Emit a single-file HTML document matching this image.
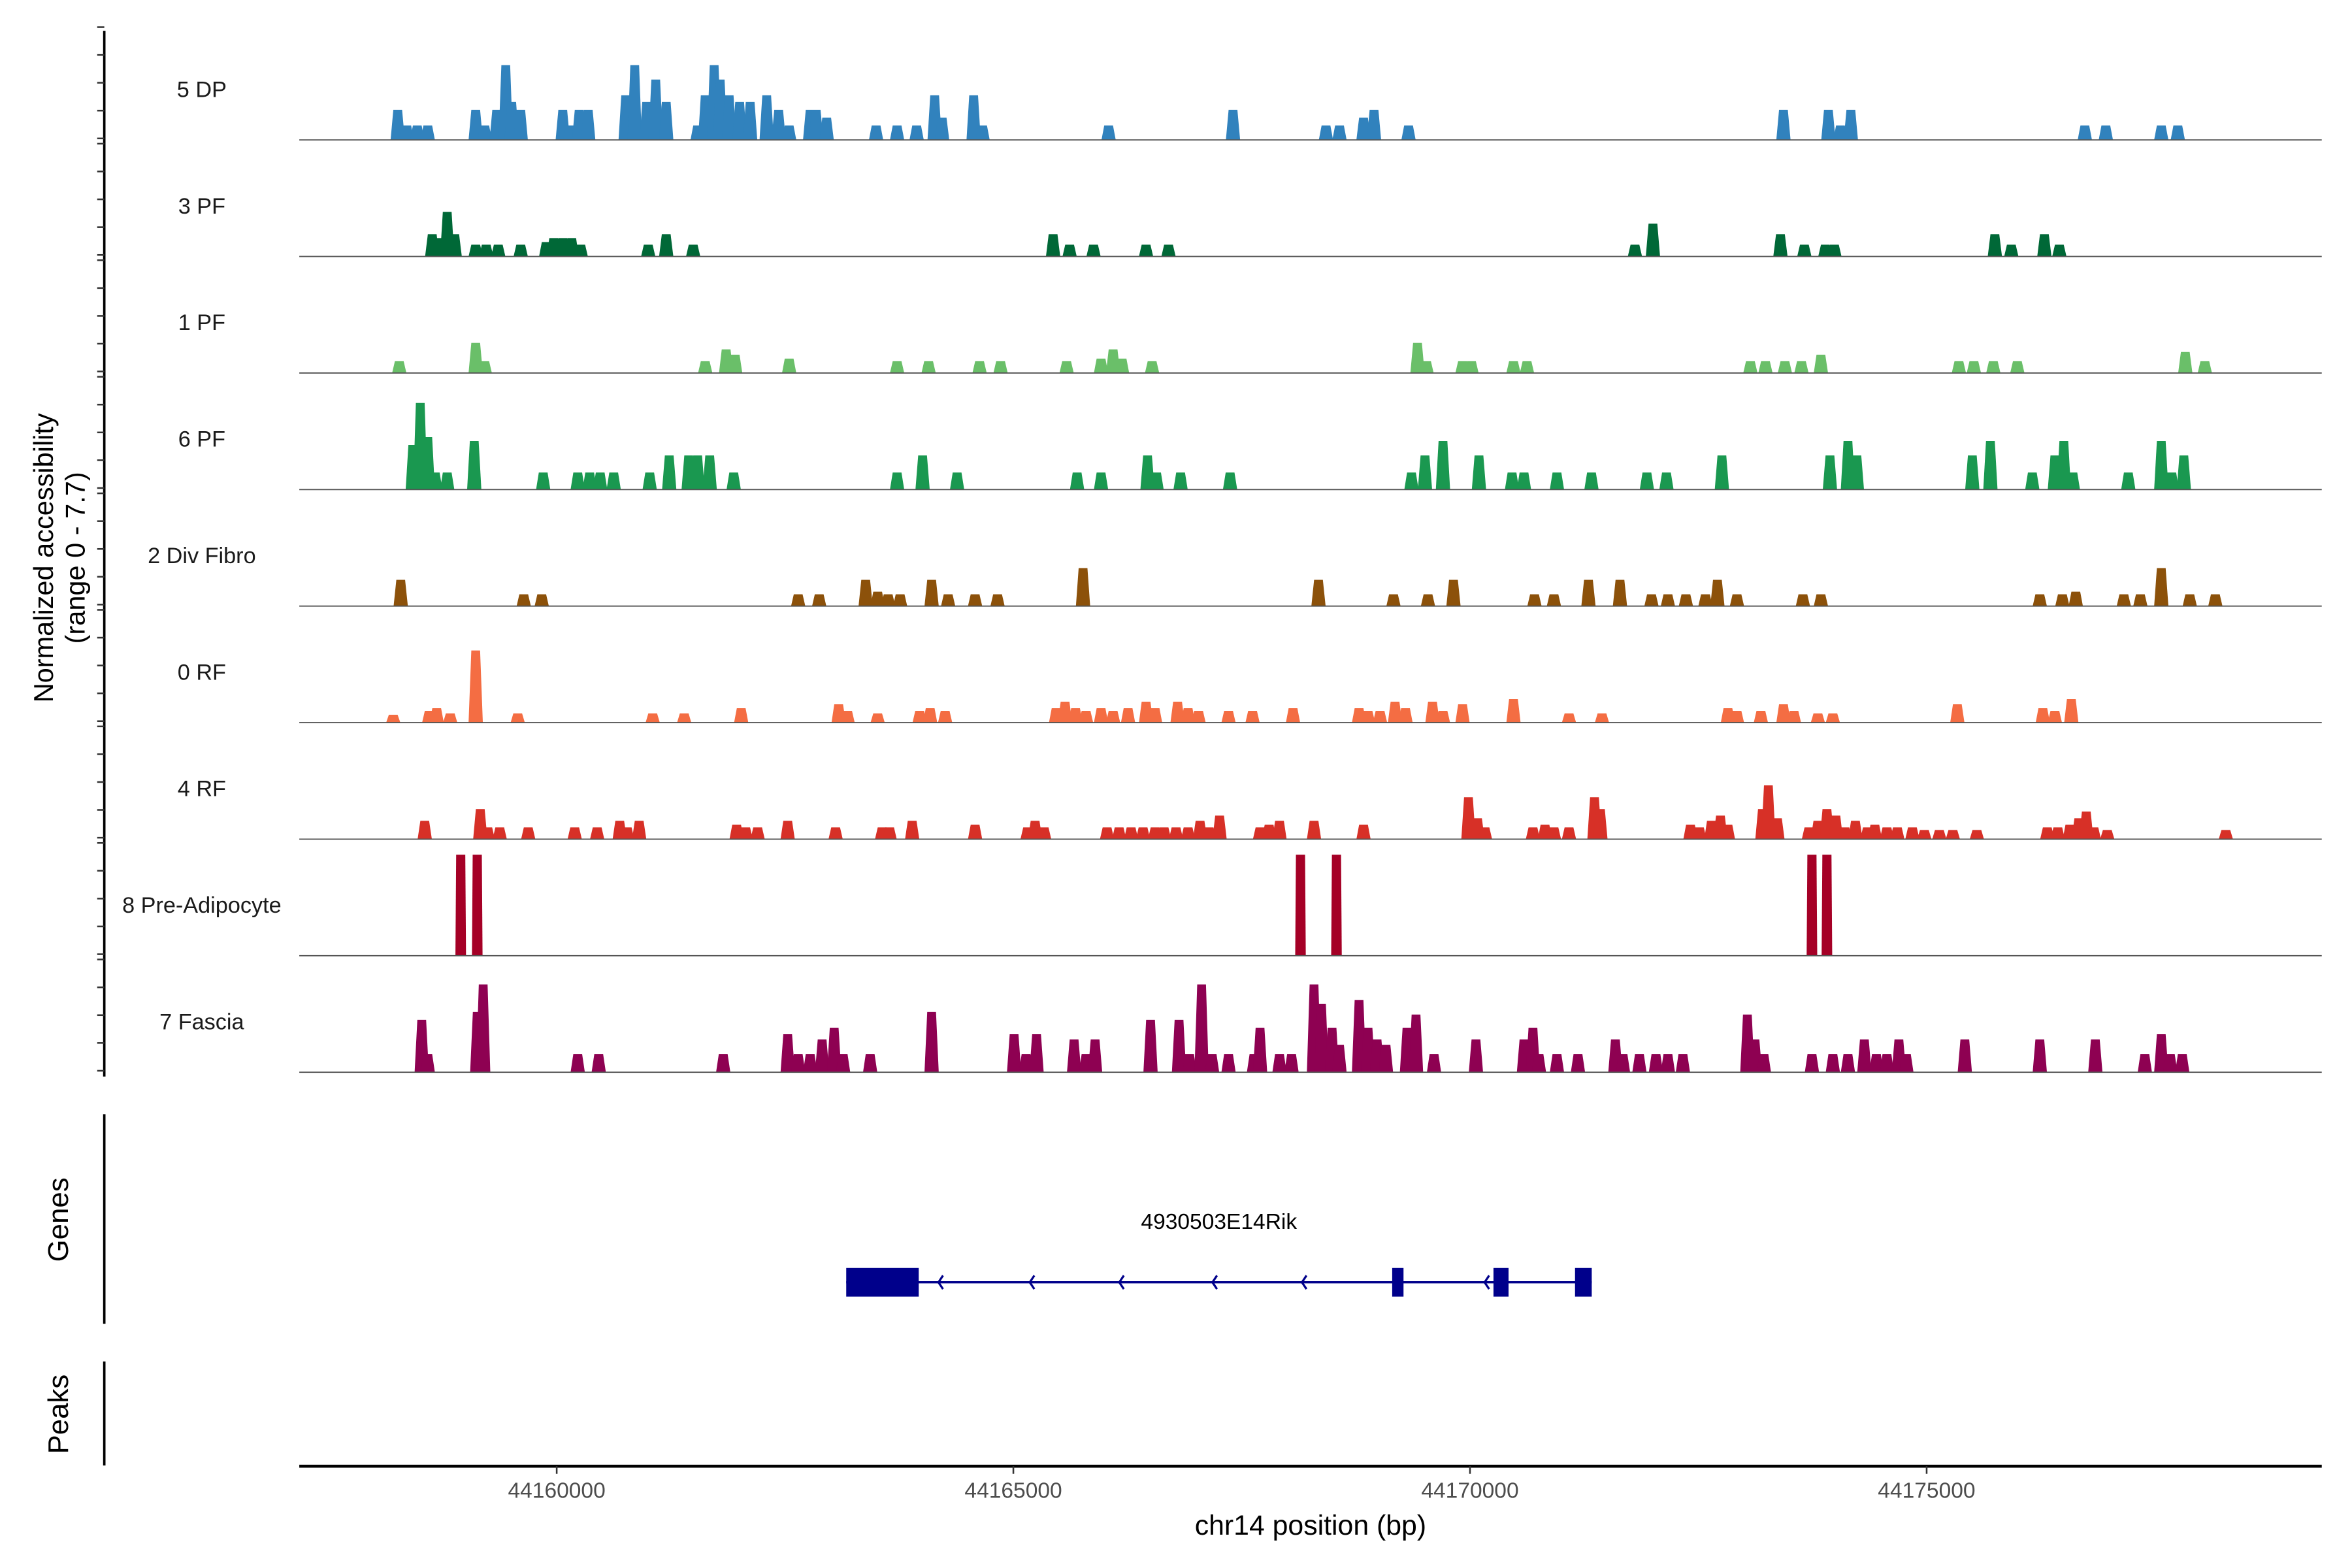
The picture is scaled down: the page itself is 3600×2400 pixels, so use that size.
<!DOCTYPE html>
<html><head><meta charset="utf-8"><style>
html,body{margin:0;padding:0;background:#fff;}
svg{display:block;font-family:"Liberation Sans",Arial,sans-serif;}
</style></head><body>
<svg id="chart" xmlns="http://www.w3.org/2000/svg" width="3600" height="2400" viewBox="0 0 1556 1040" preserveAspectRatio="none">
<rect x="0" y="0" width="1556" height="1040" fill="#fff"/>
<g id="tracks"></g>
<g id="yaxis"></g>
<text transform="translate(35,370) rotate(-90)" text-anchor="middle" font-size="18" fill="#000">Normalized accessibility</text>
<text transform="translate(56,370) rotate(-90)" text-anchor="middle" font-size="18" fill="#000">(range 0 - 7.7)</text>
<line x1="69" y1="739" x2="69" y2="878" stroke="#000" stroke-width="1.6"/>
<text transform="translate(45,809) rotate(-90)" text-anchor="middle" font-size="19" fill="#000">Genes</text>
<line x1="69" y1="903" x2="69" y2="972" stroke="#000" stroke-width="1.6"/>
<text transform="translate(45,938) rotate(-90)" text-anchor="middle" font-size="19" fill="#000">Peaks</text>
<g id="gene"></g>
<g id="xaxis"></g>
<text x="867" y="1018" text-anchor="middle" font-size="18.5" fill="#000">chr14 position (bp)</text>
</svg>
<script>
const trackNames = ["5 DP","3 PF","1 PF","6 PF","2 Div Fibro","0 RF","4 RF","8 Pre-Adipocyte","7 Fascia"];
const trackColors = ["#3182bd","#006837","#6abf69","#1a9850","#8c510a","#f46d43","#d73027","#a50026","#8e0152"];
const dpPos = [44158259,44158358,44158473,44158588,44159113,44159212,44159343,44159442,44159507,44159606,44160066,44160148,44160246,44160345,44160755,44160854,44160985,44161084,44161199,44161543,44161626,44161724,44161790,44161888,44162003,44162118,44162299,44162430,44162545,44162775,44162841,44162956,44163497,44163727,44163941,44164138,44164220,44164565,44164663,44166043,44167405,44168423,44168571,44168834,44168949,44169327,44173432,44173924,44174056,44174170,44176732,44176962,44177569,44177750];
const dpVal = [2.3,1.1,1.1,1.1,2.3,1.1,2.3,5.7,2.9,2.3,2.3,1.1,2.3,2.3,3.4,5.7,2.9,4.6,2.9,1.1,3.4,5.7,4.6,3.4,2.9,2.9,3.4,2.3,1.1,2.3,2.3,1.7,1.1,1.1,1.1,3.4,1.7,3.4,1.1,1.1,2.3,1.1,1.1,1.7,2.3,1.1,2.3,2.3,1.1,2.3,1.1,1.1,1.1,1.1];
const pf3Pos = [44158637,44158719,44158801,44158883,44159113,44159228,44159360,44159606,44159885,44159967,44160066,44160164,44160263,44161002,44161199,44161494,44165435,44165616,44165878,44166453,44166699,44171806,44172003,44173399,44173661,44173891,44173990,44175747,44175927,44176289,44176453];
const pf3Val = [1.7,1.4,3.4,1.7,0.9,0.9,0.9,0.9,1.1,1.4,1.4,1.4,0.9,0.9,1.7,0.9,1.7,0.9,0.9,0.9,0.9,0.9,2.5,1.7,0.9,0.9,0.9,1.7,0.9,1.7,0.9];
const pf1Pos = [44158276,44159113,44159212,44161626,44161855,44161954,44162545,44163727,44164072,44164630,44164860,44165583,44165960,44166092,44166190,44166519,44169425,44169524,44169918,44170016,44170476,44170624,44173070,44173235,44173448,44173629,44173842,44175353,44175517,44175730,44175993,44177832,44178046];
const pf1Val = [0.9,2.3,0.9,0.9,1.8,1.4,1.1,0.9,0.9,0.9,0.9,0.9,1.1,1.8,1.1,0.9,2.3,0.9,0.9,0.9,0.9,0.9,0.9,0.9,0.9,0.9,1.4,0.9,0.9,0.9,0.9,1.6,0.9];
const pf6Pos = [44158424,44158506,44158588,44158670,44158801,44159097,44159852,44160230,44160361,44160476,44160624,44161018,44161232,44161445,44161543,44161675,44161938,44163727,44164006,44164384,44165698,44165960,44166469,44166568,44166831,44167373,44169359,44169507,44169704,44170098,44170460,44170591,44170952,44171330,44171937,44172151,44172758,44173941,44174138,44174236,44175500,44175698,44176157,44176404,44176502,44176601,44177208,44177569,44177684,44177816];
const pf6Val = [3.4,6.6,4.0,1.3,1.3,3.7,1.3,1.3,1.3,1.3,1.3,1.3,2.6,2.6,2.6,2.6,1.3,1.3,2.6,1.3,1.3,1.3,2.6,1.3,1.3,1.3,1.3,2.6,3.7,2.6,1.3,1.3,1.3,1.3,1.3,1.3,2.6,2.6,3.7,2.6,2.6,3.7,1.3,2.6,3.7,1.3,1.3,3.7,1.3,2.6];
const divPos = [44158292,44159639,44159836,44162644,44162874,44163383,44163514,44163629,44163760,44164105,44164286,44164581,44164827,44165763,44168341,44169162,44169540,44169819,44170706,44170919,44171297,44171642,44171987,44172167,44172364,44172578,44172709,44172923,44173645,44173842,44176239,44176486,44176633,44177159,44177340,44177569,44177881,44178161];
const divVal = [2.0,0.9,0.9,0.9,0.9,2.0,1.1,0.9,0.9,2.0,0.9,0.9,0.9,2.9,2.0,0.9,0.9,2.0,0.9,0.9,2.0,2.0,0.9,0.9,0.9,0.9,2.0,0.9,0.9,0.9,0.9,0.9,1.1,0.9,0.9,2.9,0.9,0.9];
const rf0Pos = [44158210,44158604,44158686,44158834,44159113,44159573,44161051,44161396,44162020,44163087,44163185,44163514,44163974,44164089,44164253,44165468,44165566,44165681,44165796,44165960,44166092,44166256,44166453,44166552,44166798,44166913,44167028,44167356,44167619,44168062,44168785,44168883,44169015,44169179,44169294,44169589,44169704,44169918,44170476,44171084,44171445,44172824,44172923,44173185,44173432,44173547,44173809,44173973,44175336,44176272,44176404,44176584];
const rf0Val = [0.6,0.9,1.1,0.7,5.5,0.7,0.7,0.7,1.1,1.4,0.9,0.7,0.9,1.1,0.9,1.1,1.6,1.1,0.9,1.1,0.9,1.1,1.6,1.1,1.6,1.1,0.9,0.9,0.9,1.1,1.1,0.9,0.9,1.6,1.1,1.6,0.9,1.4,1.8,0.7,0.7,1.1,0.9,0.9,1.4,0.9,0.7,0.7,1.4,1.1,0.9,1.8];
const rf4Pos = [44158555,44159163,44159245,44159376,44159688,44160197,44160443,44160690,44160772,44160903,44161970,44162069,44162200,44162529,44163054,44163563,44163645,44163892,44164581,44165156,44165238,44165337,44166026,44166158,44166289,44166420,44166552,44166650,44166781,44166913,44167044,44167143,44167258,44167701,44167800,44167914,44168292,44168834,44169983,44170082,44170164,44170689,44170821,44170919,44171084,44171363,44171428,44172414,44172512,44172643,44172742,44172824,44173202,44173267,44173366,44173711,44173809,44173908,44174006,44174105,44174220,44174351,44174433,44174565,44174679,44174844,44174975,44175139,44175287,44175550,44176321,44176436,44176568,44176666,44176748,44176831,44176978,44178276];
const rf4Val = [1.4,2.3,0.9,0.9,0.9,0.9,0.9,1.4,0.9,1.4,1.1,0.9,0.9,1.4,0.9,0.9,0.9,1.4,1.1,0.9,1.4,0.9,0.9,0.9,0.9,0.9,0.9,0.9,0.9,0.9,1.4,0.9,1.8,0.9,1.1,1.4,1.4,1.1,3.2,1.6,0.9,0.9,1.1,0.9,0.9,3.2,2.3,1.1,0.9,1.4,1.8,1.1,2.3,4.1,1.6,0.9,1.4,2.3,1.8,0.9,1.4,0.9,1.1,0.9,0.9,0.9,0.7,0.7,0.7,0.7,0.9,0.9,1.1,1.6,2.1,0.9,0.7,0.7];
const preAdipoPos = [44158949,44159130,44168144,44168538,44173744,44173908];
const preAdipoVal = [7.7,7.7,7.7,7.7,7.7,7.7];
const fasciaPos = [44158522,44158588,44159130,44159195,44160230,44160460,44161823,44162529,44162644,44162775,44162906,44163038,44163136,44163432,44164105,44165008,44165139,44165254,44165665,44165796,44165895,44166502,44166814,44166929,44167061,44167176,44167356,44167635,44167701,44167914,44168046,44168292,44168374,44168489,44168571,44168785,44168883,44168982,44169080,44169310,44169409,44169606,44170065,44170591,44170689,44170755,44170952,44171182,44171592,44171675,44171855,44172036,44172167,44172331,44173037,44173120,44173218,44173744,44173973,44174138,44174318,44174450,44174565,44174696,44174778,44175418,44176239,44176847,44177389,44177569,44177668,44177799];
const fasciaVal = [4.0,1.4,4.6,6.7,1.4,1.4,1.4,2.9,1.4,1.4,2.5,3.4,1.4,1.4,4.6,2.9,1.4,2.9,2.5,1.4,2.5,4.0,4.0,1.4,6.7,1.4,1.4,1.4,3.4,1.4,1.4,6.7,5.2,3.4,2.1,5.5,3.4,2.5,2.1,3.4,4.4,1.4,2.5,2.5,3.4,1.4,1.4,1.4,2.5,1.4,1.4,1.4,1.4,1.4,4.4,2.5,1.4,1.4,1.4,1.4,2.5,1.4,1.4,2.5,1.4,2.5,2.5,2.5,1.4,2.9,1.4,1.4];
const trackPositions = [dpPos,pf3Pos,pf1Pos,pf6Pos,divPos,rf0Pos,rf4Pos,preAdipoPos,fasciaPos];
const trackValues = [dpVal,pf3Val,pf1Val,pf6Val,divVal,rf0Val,rf4Val,preAdipoVal,fasciaVal];
const xTicks = [44160000,44165000,44170000,44175000];
const yMax = 7.7;
const exonStarts = [44163170,44169148,44170257,44171150];
const exonEnds = [44163964,44169272,44170422,44171333];
const geneStart = 44163170, geneEnd = 44171333;
const strandArrows = [44164180,44165180,44166160,44167180,44168160,44170160];
const geneName = "4930503E14Rik";

const NS = "http://www.w3.org/2000/svg";
const PX0 = 198, PX1 = 1536;
function xScale(bp){ return 368.3 + (bp - 44160000) / 5000 * 302.1; }
const pxPerUnit = 67 / yMax;
function baseline(i){ return 92.8 + i * 77.3; }
function yScale(v, i){ return baseline(i) - v * pxPerUnit; }
function mk(tag, attrs, parent){
  const e = document.createElementNS(NS, tag);
  for (const k in attrs) e.setAttribute(k, attrs[k]);
  parent.appendChild(e);
  return e;
}

const tracksG = document.getElementById('tracks');
const yaxisG = document.getElementById('yaxis');
const axisLine = mk('line', {x1:69, y1:20.4, x2:69, y2:714, stroke:'#000', 'stroke-width':1.6}, yaxisG);



trackNames.forEach((name, i) => {
  const g = mk('g', {}, tracksG);
  
  
  const b = baseline(i);
  const lbl = mk('text', {x:133.5, y:b - 28.5, 'text-anchor':'middle', 'font-size':14.8, fill:'#1a1a1a'}, g);
  lbl.textContent = name;
  
  
  const pos = trackPositions[i], vals = trackValues[i];
  const isBar = (i === 7);
  pos.forEach((p, j) => {
    const hb = isBar ? 58 : 78, ht = isBar ? 50 : 48;
    const yTop = yScale(vals[j], i);
    const pts = [
      [xScale(p - hb), b], [xScale(p - ht), yTop], [xScale(p + ht), yTop], [xScale(p + hb), b]
    ].map(q => q[0].toFixed(2) + ',' + q[1].toFixed(2)).join(' ');
    const pk = mk('polygon', {points: pts, fill: trackColors[i]}, g);
    
    
  });
  const bl = mk('line', {x1:PX0, y1:b, x2:PX1, y2:b, stroke:'#555', 'stroke-width':0.8}, g);
  
  
  for (let k = 0; k < 5; k++) {
    const ty = b - 1 - k * 18.45;
    const t = mk('line', {x1:64.3, y1:ty, x2:69, y2:ty, stroke:'#333', 'stroke-width':1.1}, yaxisG);
    
    
  }
});

const geneG = document.getElementById('gene');
const gy = 850.5;
const intron = mk('line', {x1:xScale(geneStart), y1:gy, x2:xScale(geneEnd), y2:gy, stroke:'#00008b', 'stroke-width':1.5}, geneG);


strandArrows.forEach(a => {
  const ax = xScale(a);
  const ar = mk('polyline', {points:(ax+3)+','+(gy-4.5)+' '+ax+','+gy+' '+(ax+3)+','+(gy+4.5), fill:'none', stroke:'#00008b', 'stroke-width':1.4}, geneG);
  
  
});
exonStarts.forEach((s, j) => {
  const ex = mk('rect', {x:xScale(s), y:841, width:xScale(exonEnds[j]) - xScale(s), height:19, fill:'#00008b'}, geneG);
  
  
});
const gl = mk('text', {x:(xScale(geneStart)+xScale(geneEnd))/2, y:815, 'text-anchor':'middle', 'font-size':14.5, fill:'#000'}, geneG);
gl.textContent = geneName;



const xG = document.getElementById('xaxis');
const xl = mk('line', {x1:PX0, y1:972.5, x2:PX1, y2:972.5, stroke:'#000', 'stroke-width':2}, xG);


xTicks.forEach(t => {
  const x = xScale(t);
  const tk = mk('line', {x1:x, y1:972.5, x2:x, y2:977.5, stroke:'#333', 'stroke-width':1.1}, xG);
  
  
  const tl = mk('text', {x:x, y:993.5, 'text-anchor':'middle', 'font-size':14.5, fill:'#4d4d4d'}, xG);
  tl.textContent = String(t);
  
  
});
</script>
</body></html>
